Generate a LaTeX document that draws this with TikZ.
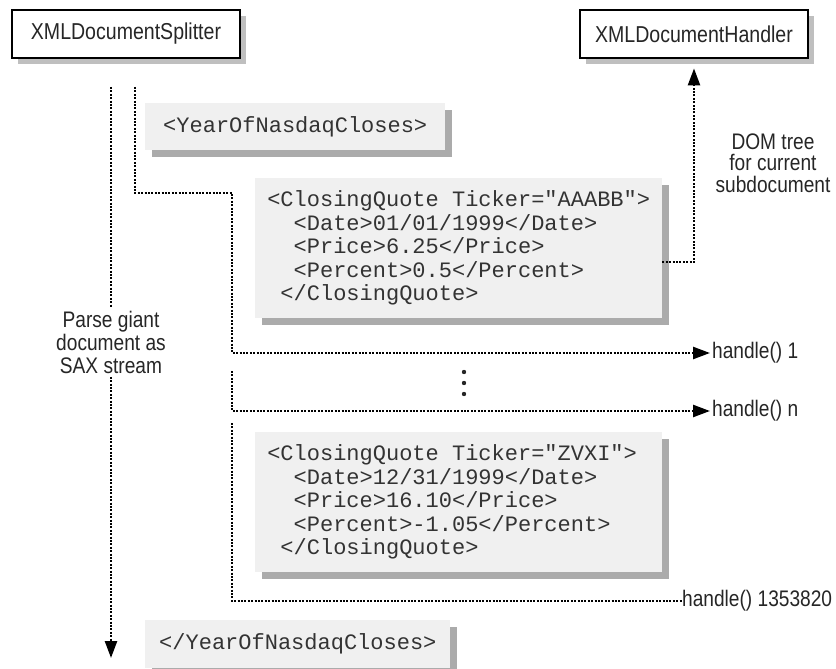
\documentclass[tikz,border=0pt]{standalone}
\usepackage{fontspec}
\setmonofont{Liberation Mono}
\newfontfamily\labelfont{Liberation Sans}[FakeStretch=0.85]
\usetikzlibrary{arrows.meta,shadows,positioning}

\begin{document}
\begin{tikzpicture}[x=1pt, y=-1pt,
    every node/.style={font=\labelfont\fontsize{22.5}{23}\selectfont, text=black!85},
    classbox/.style={draw, line width=2.8pt, fill=white, minimum width=228pt, minimum height=48pt, inner sep=0pt,
        font=\labelfont\fontsize{23}{24}\selectfont,
        drop shadow={shadow xshift=6pt, shadow yshift=-6pt, fill=black!25, opacity=1}},
    codebox/.style={fill=black!6, anchor=north west, inner ysep=0pt, align=left,
        font=\ttfamily\fontsize{22}{23.5}\selectfont, text=black!80,
        drop shadow={shadow xshift=7pt, shadow yshift=-7pt, fill=black!33, opacity=1}},
    flow/.style={line width=2.4pt, dash pattern=on 2pt off 1.4pt},
    flowtip/.style={-{Triangle[length=17pt, width=12pt]}},
  ]
        \useasboundingbox (0,0) rectangle (836,669);

        % Classes
        \node[classbox] (splitter) at (126,34) {XMLDocumentSplitter};
        \node[classbox] (handler) at (694,34) {XMLDocumentHandler};

        % XML pieces
        \node[codebox, inner xsep=18pt, minimum height=47pt] (yearopen) at (145,103) {<YearOfNasdaqCloses>};
        \node[codebox, minimum width=407pt, minimum height=140pt, inner xsep=10pt] (quote1) at (255,178)
            {<ClosingQuote Ticker="AAABB">\\
             \phantom{xx}<Date>01/01/1999</Date>\\
             \phantom{xx}<Price>6.25</Price>\\
             \phantom{xx}<Percent>0.5</Percent>\\
             \phantom{x}</ClosingQuote>};
        \node[codebox, minimum width=407pt, minimum height=140pt, inner xsep=10pt] (quote2) at (255,432)
            {<ClosingQuote Ticker="ZVXI">\phantom{x}\\
             \phantom{xx}<Date>12/31/1999</Date>\\
             \phantom{xx}<Price>16.10</Price>\\
             \phantom{xx}<Percent>-1.05</Percent>\\
             \phantom{x}</ClosingQuote>};
        \node[codebox, inner xsep=14pt, minimum height=48pt] (yearclose) at (145,620) {</YearOfNasdaqCloses>};

        % Labels
        \node[align=center] (parse) at (111,342) {Parse giant\\document as\\SAX stream};
        \node[align=center, font=\labelfont\fontsize{22.5}{21.5}\selectfont] (dom) at (773,163) {DOM tree\\for current\\subdocument};
        \node[anchor=west, inner sep=2pt] (h1) at (710,353) {handle() 1};
        \node[anchor=west, inner sep=2pt] (hn) at (710,411) {handle() n};
        \node[anchor=west, inner sep=0pt] (hlast) at (682,601) {handle() 1353820};

        % Bends
        \coordinate (a0) at (111,87);
        \coordinate (a1) at (111,658);
        \coordinate (b0) at (135,87);
        \coordinate (b1) at (135,193);
        \coordinate (b2) at (232,193);
        \coordinate (b3) at (232,353);
        \coordinate (c0) at (232,371);
        \coordinate (c1) at (232,411);
        \coordinate (e0) at (232,423);
        \coordinate (e1) at (232,601);
        \coordinate (d0) at (quote1.east |- 0,262);
        \coordinate (d1) at (handler.south |- 0,262);

        % SAX stream
        \draw[flow] (a0) -- (parse.north);
        \draw[flow, flowtip] (parse.south) -- (a1);

        % Subdocument events
        \draw[flow, flowtip] (b0) -- (b1) -- (b2) -- (b3) -- (h1.west);
        \draw[flow, flowtip] (c0) -- (c1) -- (hn.west);
        \draw[flow] (e0) -- (e1) -- (hlast.west);
        \foreach \y in {372,383,394} \fill[black!85] (464,\y) circle (2.2pt);

        % DOM tree
        \draw[flow, flowtip, shorten >=9pt] (d0) -- (d1) -- (handler.south);
    \end{tikzpicture}
\end{document}
